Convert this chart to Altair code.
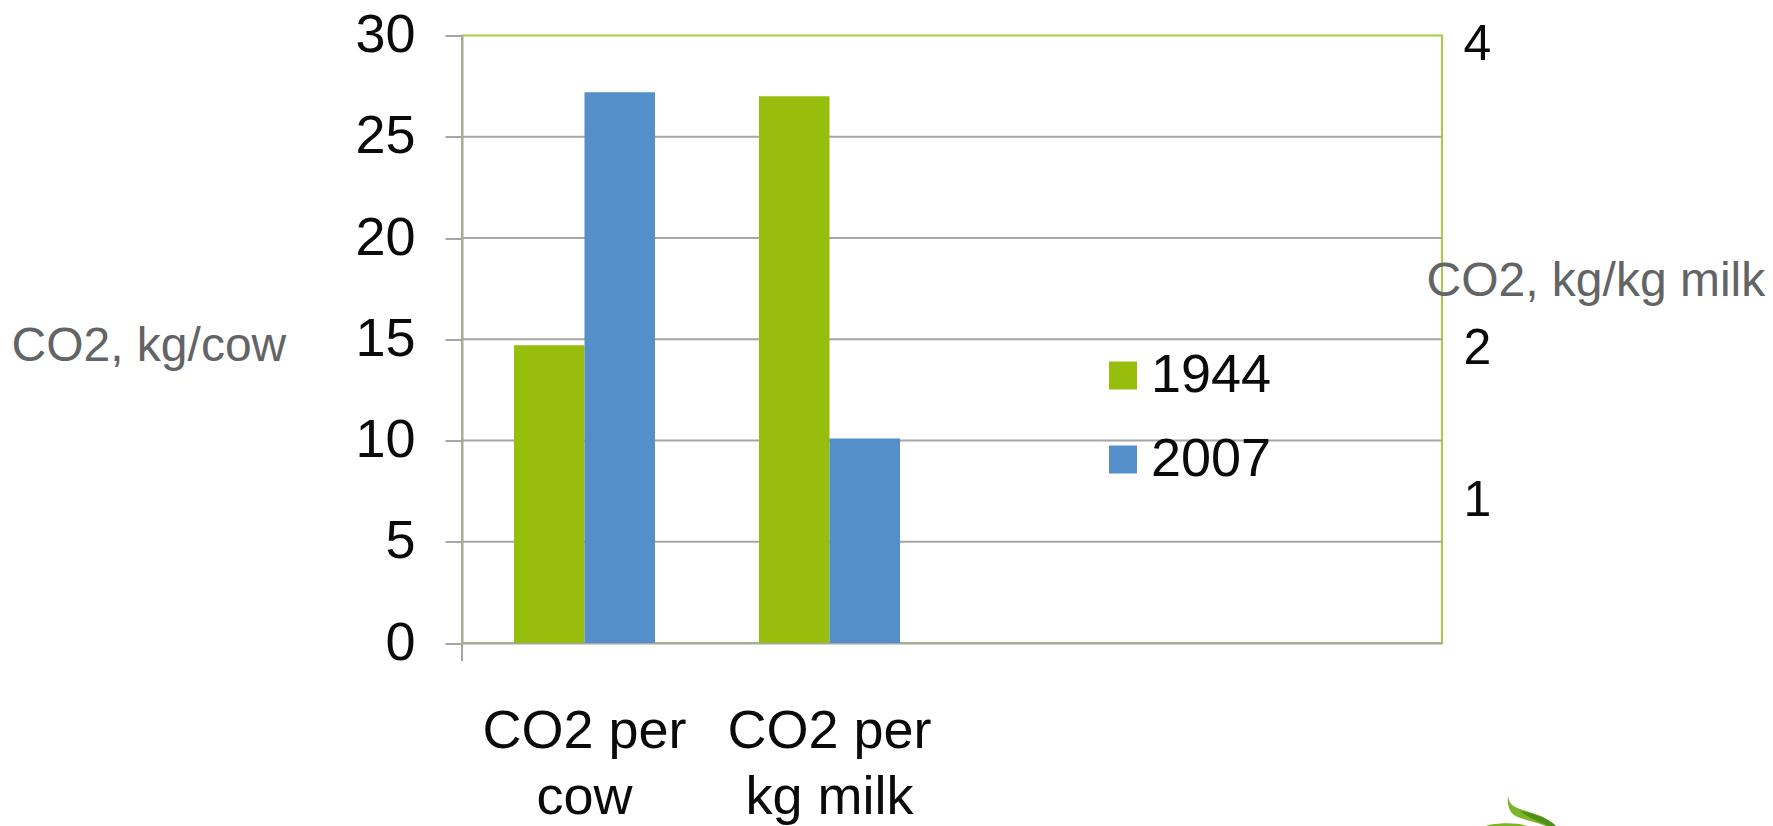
import altair as alt
import pandas as pd

# Emissions chart: two measures compared between two years
measures = ["CO2 per|cow", "CO2 per|kg milk"]
axis_slots = ["CO2 per|cow", "CO2 per|kg milk", "", " "]
years = ["1944", "2007"]
values_1944 = [14.7, 27.0]
values_2007 = [27.2, 10.1]
left_ticks = [0, 5, 10, 15, 20, 25, 30]
grid_lines = [5, 10, 15, 20, 25]
right_ticks = [4, 2, 1]
right_column = [4, 2, 1, 0]

GREEN = "#97BD0D"
BLUE = "#558FC9"
BORDER = "#A9CB3C"
GREY = "#A6A6A6"
TITLE = "#636466"
INK = "#0A0A0A"
FONT = "Liberation Sans"
W, H = 980, 607.5

bars = pd.DataFrame({
    "measure": measures * 2,
    "year": [years[0]] * 2 + [years[1]] * 2,
    "value": values_1944 + values_2007,
})
slots = pd.DataFrame({"slot": axis_slots, "right": right_column})

bar_layer = alt.Chart(bars).mark_bar(opacity=1).encode(
    x=alt.X(
        "measure:N",
        axis=None,
        scale=alt.Scale(domain=axis_slots, paddingInner=0.4245, paddingOuter=0.2122),
    ),
    xOffset=alt.XOffset("year:N", sort=years),
    y=alt.Y(
        "value:Q",
        scale=alt.Scale(domain=[0, 30], nice=False),
        axis=alt.Axis(
            values=left_ticks,
            grid=False,
            domainColor=GREY,
            domainWidth=2,
            tickColor=GREY,
            tickWidth=2,
            tickSize=17,
            labelFont=FONT,
            labelFontSize=54,
            labelColor=INK,
            labelPadding=30,
            title="CO2, kg/cow",
            titleFont=FONT,
            titleFontSize=48,
            titleFontWeight="normal",
            titleColor=TITLE,
            titleAngle=0,
            titleAlign="left",
            titleBaseline="middle",
            titleX=-451,
            titleY=311,
        ),
    ),
    color=alt.Color(
        "year:N",
        scale=alt.Scale(domain=years, range=[GREEN, BLUE]),
        legend=alt.Legend(
            title=None,
            orient="none",
            legendX=634,
            legendY=313,
            symbolType="square",
            symbolSize=784,
            symbolStrokeWidth=0,
            symbolOpacity=1,
            labelFont=FONT,
            labelFontSize=54,
            labelColor=INK,
            labelOffset=1,
            rowPadding=30,
        ),
    ),
)

# Horizontal gridlines sit beneath the bars
grid_layer = alt.Chart(pd.DataFrame({"g": grid_lines})).mark_rule(color=GREY, strokeWidth=2).encode(
    y=alt.Y("g:Q", scale=alt.Scale(domain=[0, 30], nice=False), axis=None),
)

# Category labels and the right-hand scale share this invisible layer
axis_layer = alt.Chart(slots).mark_rule(opacity=0).encode(
    x=alt.X(
        "slot:N",
        scale=alt.Scale(domain=axis_slots),
        axis=alt.Axis(
            title=None,
            ticks=False,
            domainColor=GREY,
            domainWidth=2,
            labelAngle=0,
            labelFont=FONT,
            labelFontSize=54,
            labelColor=INK,
            labelPadding=61,
            labelLineHeight=66,
            labelLimit=0,
            labelOverlap=False,
            labelExpr="split(datum.label, '|')",
        ),
    ),
    y=alt.Y(
        "right:Q",
        scale=alt.Scale(domain=[0, 4], nice=False),
        axis=alt.Axis(
            orient="right",
            values=right_ticks,
            format="d",
            grid=False,
            ticks=False,
            domain=False,
            labelFont=FONT,
            labelFontSize=50,
            labelColor=INK,
            labelPadding=21,
            labelOffset=9,
            title="CO2, kg/kg milk",
            titleFont=FONT,
            titleFontSize=48,
            titleFontWeight="normal",
            titleColor=TITLE,
            titleAngle=0,
            titleAlign="left",
            titleBaseline="middle",
            titleX=-16,
            titleY=246,
        ),
    ),
)

# Short stub that carries the vertical axis below the baseline
stub_layer = alt.Chart(pd.DataFrame({"a": [0]})).mark_rule(color=GREY, strokeWidth=2).encode(
    x=alt.value(0),
    y=alt.value(H),
    y2=alt.value(H + 18),
)

# Leaf emblem in the lower right corner, cut by the page edge
blade = "M0,0C1,6 3,10 12,13C24,17 38,20 48,30L38,30C26,25 14,24 6,19C1,15 -1,8 0,0Z"
blade_shade = "M12,15C26,17 40,22 48,30L40,30C30,25 20,22 12,15Z"
arc = "M-22,30C-14,27 8,26 19,30Z"


def emblem(shape, colour):
    return alt.Chart(pd.DataFrame({"a": [0]})).mark_point(
        shape=shape, size=4, filled=True, opacity=1, strokeWidth=0, color=colour
    ).encode(x=alt.value(1046), y=alt.value(760.5))


chart = (
    alt.layer(
        grid_layer,
        bar_layer,
        axis_layer,
        stub_layer,
        emblem(blade, "#7DB52A"),
        emblem(blade_shade, "#4F8F18"),
        emblem(arc, "#7DB52A"),
    )
    .resolve_scale(x="independent", y="independent")
    .properties(
        width=W,
        height=H,
        padding={"left": 462, "top": 35.5, "right": 331, "bottom": 183},
        autosize=alt.AutoSizeParams(type="none"),
        background="white",
    )
    .configure_view(stroke=BORDER, strokeWidth=2)
)

chart.save("out.html", embed_options={"renderer": "svg", "actions": False})
